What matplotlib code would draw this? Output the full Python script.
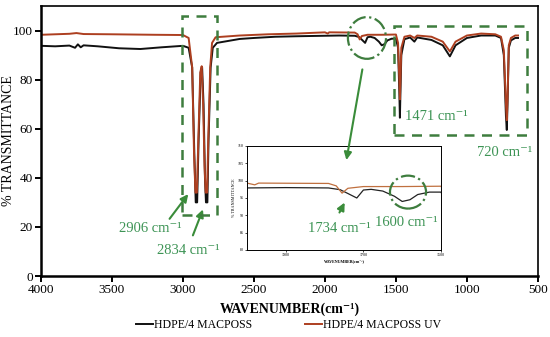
import matplotlib
matplotlib.use("Agg")
import matplotlib.pyplot as plt
from matplotlib.patches import Rectangle, Ellipse, FancyArrowPatch

plt.rcParams['font.family'] = ['Liberation Serif', 'DejaVu Serif']

# ---- data -------------------------------------------------------------

wn_black = [4000, 3900, 3800, 3760, 3740, 3720, 3700, 3600, 3450, 3300, 3150,
            3000, 2960, 2935, 2920, 2910, 2900, 2890, 2875, 2865, 2855, 2845,
            2838, 2828, 2820, 2805, 2790, 2760, 2700, 2600, 2500, 2350, 2200,
            2000, 1900, 1790, 1760, 1740, 1717, 1700, 1680, 1650, 1620, 1600,
            1580, 1560, 1530, 1500, 1485, 1476, 1472, 1468, 1462, 1440, 1400,
            1370, 1350, 1250, 1170, 1120, 1080, 1000, 900, 800, 760, 740, 725,
            719, 714, 705, 690, 660, 640]
t_black = [93.8, 93.6, 93.9, 93.0, 94.4, 93.2, 94.0, 93.6, 92.8, 92.5, 93.2,
           93.8, 93.0, 85, 50, 30, 30, 55, 83, 85, 70, 40,
           30, 30, 55, 85, 93, 95, 95.6, 96.6, 97.0, 97.5, 97.7,
           97.9, 98.0, 97.9, 97.4, 96.3, 95.0, 97.3, 97.5, 97.0, 95.5, 94.0,
           94.5, 96.0, 96.7, 96.7, 93, 75, 64.5, 75, 90, 96.5, 97.2,
           95.5, 97.2, 96.2, 94.0, 89.5, 94.0, 97.0, 98.0, 98.0, 97.0, 90, 65,
           59.5, 70, 93, 96, 97, 97]

wn_uv = [4000, 3800, 3750, 3700, 3500, 3200, 3000, 2960, 2935, 2922, 2912,
         2902, 2892, 2878, 2868, 2858, 2848, 2840, 2830, 2822, 2808, 2795,
         2770, 2600, 2400, 2200, 2000, 1980, 1970, 1790, 1770, 1755, 1740,
         1700, 1600, 1500, 1485, 1476, 1472, 1468, 1462, 1440, 1400, 1370,
         1350, 1250, 1170, 1120, 1080, 1000, 900, 800, 760, 740, 725, 719,
         714, 705, 690, 660, 640]
t_uv = [98.3, 98.7, 99.0, 98.6, 98.5, 98.3, 98.2, 97.0, 85, 50, 34,
        34, 55, 83, 85.5, 70, 45, 34, 34, 55, 85, 95,
        97.3, 98.0, 98.5, 98.8, 99.3, 98.8, 99.3, 99.2, 98.5, 96.4, 97.8,
        98.3, 98.3, 98.4, 95, 80, 72, 80, 93, 97.5, 98.0, 97.0,
        98.0, 97.5, 95.5, 91.5, 95.5, 98.0, 98.8, 98.5, 97.5, 92, 70, 63.5,
        72, 94, 97, 98, 98]

main_xticks = [4000, 3500, 3000, 2500, 2000, 1500, 1000, 500]
main_yticks = [0, 20, 40, 60, 80, 100]
inset_xticks = [1900, 1700, 1500]
inset_yticks = [80, 85, 90, 95, 100, 105, 110]

GREEN_BOX = '#3e7d3e'
GREEN_TXT = '#3d9455'
GREEN_ARR = '#3a8c3a'
BROWN = '#ad3f20'
CM = 'cm\u207b\u00b9'

# ---- figure ------------------------------------------------------------

fig = plt.figure(figsize=(5.5, 3.37), dpi=100)
ax = fig.add_axes([0.0745, 0.181, 0.9035, 0.801])

ax.plot(wn_black, t_black, color='#111111', lw=1.4, label='HDPE/4 MACPOSS')
ax.plot(wn_uv, t_uv, color=BROWN, lw=1.4, label='HDPE/4 MACPOSS UV')

ax.set_xlim(4000, 500)
ax.set_ylim(0, 110)
ax.set_xticks(main_xticks)
ax.set_yticks(main_yticks)
ax.tick_params(direction='out', length=4, width=1.4, labelsize=9.5, pad=2)
for side in ['left', 'bottom']:
    ax.spines[side].set_linewidth(1.8)
for side in ['top', 'right']:
    ax.spines[side].set_linewidth(1.2)
ax.set_xlabel('WAVENUMBER(' + CM + ')', fontsize=10, fontweight='bold')
ax.xaxis.set_label_coords(0.5, -0.1)
ax.set_ylabel('% TRANSMITTANCE', fontsize=10)
ax.yaxis.set_label_coords(-0.052, 0.5)

# dashed boxes
ax.add_patch(Rectangle((3007, 24.9), 2761 - 3007, 106 - 24.9, fill=False,
                       ec=GREEN_BOX, lw=1.8, ls=(0, (4, 3)), zorder=5))
ax.add_patch(Rectangle((1514, 57.6), 578 - 1514, 102 - 57.6, fill=False,
                       ec=GREEN_BOX, lw=1.8, ls=(0, (4, 3)), zorder=5))
ax.add_patch(Ellipse((1704, 97), 268, 17, fill=False, ec=GREEN_BOX,
                     lw=1.6, ls='-.', zorder=5))

# peak labels
ax.text(3233, 19.2, '2906 ' + CM, color=GREEN_TXT, fontsize=10.5,
        ha='center', va='center')
ax.text(2965, 10.2, '2834 ' + CM, color=GREEN_TXT, fontsize=10.5,
        ha='center', va='center')
ax.text(1437, 64.9, '1471 ' + CM, color=GREEN_TXT, fontsize=10.5,
        ha='left', va='center')
ax.text(733, 50.2, '720 ' + CM, color=GREEN_TXT, fontsize=10.5,
        ha='center', va='center')

arrow_kw = dict(arrowstyle='-|>,head_length=0.45,head_width=0.22',
                color=GREEN_ARR, lw=1.5)
ax.annotate('', xy=(2951, 34.3), xytext=(3106, 22.4), arrowprops=arrow_kw)
ax.annotate('', xy=(2852, 28.2), xytext=(2937, 15.5), arrowprops=arrow_kw)

# ---- inset -------------------------------------------------------------

axins = fig.add_axes([247 / 550, 1 - 250 / 337, 194 / 550, 104 / 337])
axins.plot(wn_black, t_black, color='#222222', lw=0.9)
axins.plot(wn_uv, t_uv, color='#c0703f', lw=0.9)
axins.set_xlim(2000, 1500)
axins.set_ylim(80, 110)
axins.set_xticks(inset_xticks)
axins.set_yticks(inset_yticks)
axins.tick_params(length=1.5, width=0.5, labelsize=3, pad=1)
for s in axins.spines.values():
    s.set_linewidth(0.7)
axins.set_xlabel('WAVENUMBER(' + CM + ')', fontsize=3, fontweight='bold', labelpad=1)
axins.set_ylabel('% TRANSMITTANCE', fontsize=3, labelpad=1)

axins.text(1763, 86.3, '1734 ' + CM, color=GREEN_TXT, fontsize=10.5,
           ha='center', va='center')
axins.text(1590, 87.8, '1600 ' + CM, color=GREEN_TXT, fontsize=10.5,
           ha='center', va='center')
axins.annotate('', xy=(1745, 94.4), xytext=(1765, 90.1), arrowprops=arrow_kw)
axins.add_patch(Ellipse((1585, 96.7), 93, 9.5, fill=False, ec=GREEN_BOX,
                        lw=1.6, ls='-.', zorder=5))

# arrow from the main-plot circle down into the inset
fig.add_artist(FancyArrowPatch((1733, 85.3), (1852, 46.1), transform=ax.transData,
                               mutation_scale=10, **arrow_kw))

fig.legend(loc='lower center', bbox_to_anchor=(0.525, -0.015), ncol=2,
           frameon=False, fontsize=8.5, handlelength=1.4, handletextpad=0.1,
           columnspacing=4.5)

fig.savefig('out.png', dpi=100)
